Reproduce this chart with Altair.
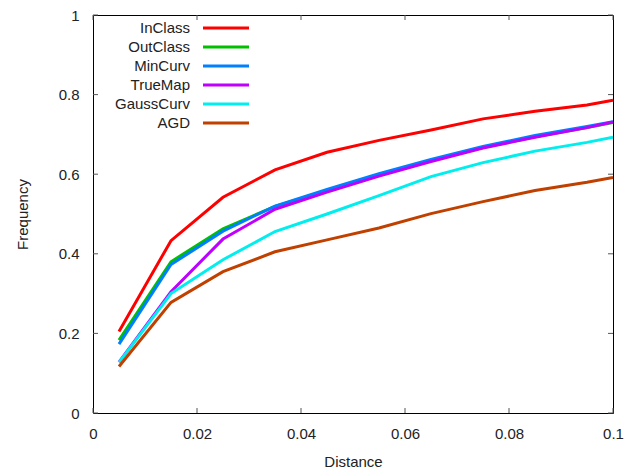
import altair as alt
import pandas as pd

distance = [0.005, 0.015, 0.025, 0.035, 0.045, 0.055, 0.065, 0.075, 0.085, 0.095, 0.1]
series_names = ["InClass", "OutClass", "MinCurv", "TrueMap", "GaussCurv", "AGD"]
in_class   = [0.205, 0.433, 0.542, 0.611, 0.655, 0.685, 0.711, 0.739, 0.758, 0.774, 0.786]
out_class  = [0.183, 0.380, 0.463, 0.519, 0.559, 0.598, 0.635, 0.667, 0.694, 0.717, 0.730]
min_curv   = [0.173, 0.373, 0.457, 0.520, 0.562, 0.601, 0.637, 0.670, 0.697, 0.720, 0.732]
true_map   = [0.128, 0.305, 0.437, 0.512, 0.555, 0.595, 0.632, 0.666, 0.693, 0.717, 0.731]
gauss_curv = [0.127, 0.300, 0.385, 0.456, 0.500, 0.546, 0.594, 0.629, 0.658, 0.680, 0.693]
agd        = [0.117, 0.278, 0.355, 0.405, 0.435, 0.465, 0.501, 0.531, 0.559, 0.580, 0.592]
colors = ["#ff0000", "#00c000", "#0080ff", "#c000ff", "#00eeee", "#c04000"]
x_ticks = [0, 0.02, 0.04, 0.06, 0.08, 0.1]
y_ticks = [0, 0.2, 0.4, 0.6, 0.8, 1]

all_values = [in_class, out_class, min_curv, true_map, gauss_curv, agd]
rows = []
for i, (name, vals) in enumerate(zip(series_names, all_values)):
    for d, v in zip(distance, vals):
        rows.append({"Distance": d, "Frequency": v, "series": name, "order": i})
df = pd.DataFrame(rows)
legend_df = pd.DataFrame({"series": series_names, "idx": list(range(len(series_names)))})
xt_df = pd.DataFrame({"Distance": x_ticks})
yt_df = pd.DataFrame({"t": y_ticks})

W, H = 520, 398
FONT = "Liberation Sans"
color_scale = alt.Scale(domain=series_names, range=colors)
xs = alt.Scale(domain=[0, 0.1], nice=False, zero=False)
ys = alt.Scale(domain=[0, 1], nice=False)

x_axis = alt.Axis(values=x_ticks, format="g", ticks=False, domain=False, grid=False,
                  labelFlush=False, labelBound=False, labelOverlap=False,
                  labelPadding=13, labelFontSize=15, labelFont=FONT, labelColor="#222",
                  title="Distance", titleFont=FONT, titleFontSize=15, titleFontWeight="normal",
                  titleColor="#222", titleX=W / 2, titleY=48, titleBaseline="middle")
y_axis = alt.Axis(values=y_ticks, format="g", ticks=False, domain=False, grid=False,
                  labelFlush=False, labelBound=False, labelOverlap=False,
                  labelPadding=14, labelFontSize=15, labelFont=FONT, labelColor="#222",
                  title="Frequency", titleFont=FONT, titleFontSize=15, titleFontWeight="normal",
                  titleColor="#222", titleX=-71, titleY=H / 2, titleAngle=270,
                  titleAlign="center", titleBaseline="middle")

lines = alt.Chart(df).mark_line(strokeWidth=3, clip=True).encode(
    x=alt.X("Distance:Q", scale=xs, axis=x_axis, title="Distance"),
    y=alt.Y("Frequency:Q", scale=ys, axis=y_axis),
    color=alt.Color("series:N", scale=color_scale, legend=None),
    order=alt.Order("order:Q"),
    detail="series:N",
)

bx = alt.Chart(xt_df).mark_rule(color="#555", strokeWidth=1).encode(
    x=alt.X("Distance:Q", scale=xs, axis=x_axis, title="Distance"), y=alt.value(H), y2=alt.value(H - 5))
tx = alt.Chart(xt_df).mark_rule(color="#555", strokeWidth=1).encode(
    x=alt.X("Distance:Q", scale=xs, axis=x_axis, title="Distance"), y=alt.value(0), y2=alt.value(5))
ly = alt.Chart(yt_df).mark_rule(color="#555", strokeWidth=1).encode(
    y=alt.Y("t:Q", scale=ys, axis=None), x=alt.value(0), x2=alt.value(5))
ry = alt.Chart(yt_df).mark_rule(color="#555", strokeWidth=1).encode(
    y=alt.Y("t:Q", scale=ys, axis=None), x=alt.value(W), x2=alt.value(W - 5))

leg_y = alt.Y("idx:Q", scale=alt.Scale(domain=[0, 5], range=[13, 108]), axis=None)
leg_text = alt.Chart(legend_df).mark_text(align="right", baseline="middle", fontSize=15,
                                          font=FONT, color="#222").encode(
    x=alt.value(97), y=leg_y, text="series:N")
leg_line = alt.Chart(legend_df).mark_rule(strokeWidth=3).encode(
    x=alt.value(110), x2=alt.value(156), y=leg_y,
    color=alt.Color("series:N", scale=color_scale, legend=None))

chart = alt.layer(lines, bx, tx, ly, ry, leg_text, leg_line).resolve_scale(
    y="independent", x="shared"
).properties(
    width=W, height=H,
    autosize=alt.AutoSizeParams(type="none"),
    padding={"left": 93, "top": 15, "right": 19, "bottom": 56},
    background="white",
).configure_view(stroke="black", strokeWidth=1)

chart.save("out.html", embed_options={"renderer": "svg", "actions": False})
